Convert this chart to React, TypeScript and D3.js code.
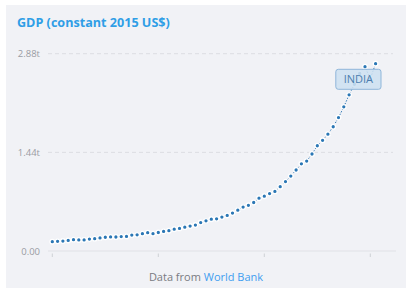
import React from "react";
import * as d3 from "d3";

const years: number[] = d3.range(1960, 2022);
const gdpTrillions: number[] = [
  0.136, 0.141, 0.145, 0.154, 0.166, 0.161, 0.161, 0.174, 0.180, 0.191,
  0.201, 0.205, 0.204, 0.210, 0.213, 0.232, 0.236, 0.253, 0.267, 0.253,
  0.270, 0.286, 0.296, 0.318, 0.330, 0.348, 0.364, 0.379, 0.415, 0.440,
  0.464, 0.469, 0.495, 0.519, 0.554, 0.596, 0.641, 0.667, 0.708, 0.771,
  0.800, 0.838, 0.870, 0.939, 1.013, 1.093, 1.182, 1.273, 1.312, 1.416,
  1.536, 1.616, 1.705, 1.814, 1.948, 2.104, 2.279, 2.434, 2.592, 2.690,
  2.515, 2.734,
];
const yTickValues: number[] = [0, 1.44, 2.88];
const yTickLabels: string[] = ["0.00", "1.44t", "2.88t"];
const xTickYears: number[] = [1960, 1980, 2000, 2020];
const title = "GDP (constant 2015 US$)";
const seriesLabel = "INDIA";

export default function App() {
  const W = 412, H = 294;
  const x = d3.scaleLinear().domain([1960, 2021]).range([52.3, 375.6]);
  const y = d3.scaleLinear().domain([0, 2.88]).range([251, 53.7]);
  const data = years.map((yr, i) => ({ yr, v: gdpTrillions[i] }));
  const line = d3.line<{ yr: number; v: number }>().x(d => x(d.yr)).y(d => y(d.v));
  const font = "'Open Sans', sans-serif";
  return (
    <svg width={W} height={H} style={{ position: "absolute", left: 0, top: 0, background: "#fff" }}>
      <rect x={6} y={5} width={400} height={283} fill="#f1f2f6" />
      <text x={17} y={27} fontFamily={font} fontWeight={700} fontSize={12.6} fill="#2f9ee6">{title}</text>
      {yTickValues.map((t, i) => (
        <g key={t}>
          {t !== 0 && (
            <line x1={48} x2={393} y1={y(t)} y2={y(t)} stroke="#dcdde2" strokeDasharray="4,3" strokeWidth={1} />
          )}
          <text x={40} y={y(t) + 3.5} textAnchor="end" fontFamily={font} fontSize={9.5} fill="#9a9ca3">{yTickLabels[i]}</text>
        </g>
      ))}
      <line x1={48} x2={396} y1={y(0)} y2={y(0)} stroke="#e0e1e6" strokeWidth={1} />
      {xTickYears.map(t => (
        <line key={t} x1={x(t)} x2={x(t)} y1={253.5} y2={257} stroke="#cfd1d6" strokeWidth={1} />
      ))}
      <path d={line(data) || ""} fill="none" stroke="#2f78b4" strokeWidth={1} strokeDasharray="1.5,1.5" />
      {data.map(d => (
        <circle key={d.yr} cx={x(d.yr)} cy={y(d.v)} r={2.3} fill="#2b77b5" stroke="#fff" strokeWidth={1.3} />
      ))}
      <g>
        <rect x={335.8} y={69.3} width={45.2} height={20} rx={2.5} fill="#cde0f1" fillOpacity={0.88} stroke="#8fb6da" strokeWidth={1} />
        <text x={358.4} y={83.3} textAnchor="middle" fontFamily={font} fontSize={11} fill="#4c7eae">{seriesLabel}</text>
      </g>
      <text x={206} y={281} textAnchor="middle" fontFamily={font} fontSize={11} fill="#7a7c82">
        Data from <tspan fill="#3f9ef0">World Bank</tspan>
      </text>
    </svg>
  );
}
